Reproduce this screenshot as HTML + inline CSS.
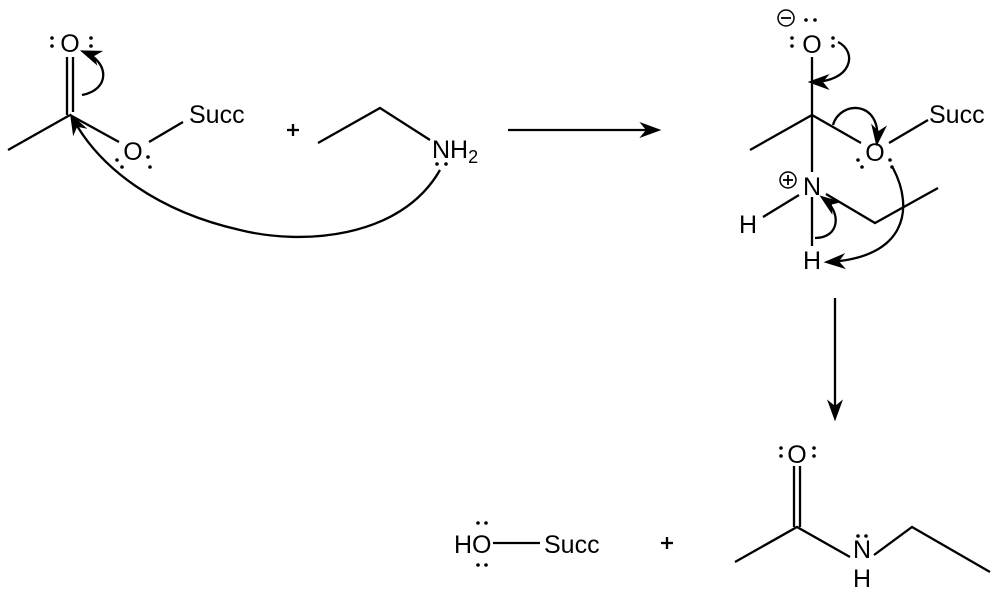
<!DOCTYPE html>
<html><head><style>
html,body{margin:0;padding:0;background:#fff;width:1000px;height:600px;overflow:hidden}
svg text{font-family:"Liberation Sans",Arial,sans-serif;font-size:25px;fill:#000}
</style></head><body>
<svg width="1000" height="600" viewBox="0 0 1000 600" xmlns="http://www.w3.org/2000/svg">
<defs>
<marker id="ah2" viewBox="0 0 10 10" refX="8" refY="5" markerWidth="22" markerHeight="16" orient="auto" markerUnits="userSpaceOnUse" preserveAspectRatio="none"><path d="M0,0 L10,5 L0,10 L3,5 z" fill="#000"/></marker>
</defs>
<g stroke="#000" stroke-width="2.3" fill="none">
<line x1="8" y1="150" x2="70" y2="115"/>
<line x1="67" y1="57" x2="67" y2="115"/>
<line x1="73" y1="57" x2="73" y2="112"/>
<line x1="70" y1="115" x2="119" y2="142"/>
<line x1="149" y1="142" x2="183" y2="122"/>
<path d="M82,95 C110,90 110,62 84,52" marker-end="url(#ah2)"/>
<path d="M440,170 C400,240 300,245 240,230 C160,212 100,170 72,117" marker-end="url(#ah2)"/>
<polyline points="318,143 380,108 430,140"/>
<line x1="287" y1="130" x2="299" y2="130"/><line x1="293" y1="124" x2="293" y2="136"/>
<line x1="508" y1="130" x2="657" y2="130" marker-end="url(#ah2)"/>
<line x1="812" y1="57" x2="812" y2="172"/>
<line x1="812" y1="197" x2="812" y2="246"/>
<line x1="750" y1="150" x2="812" y2="115"/>
<line x1="812" y1="115" x2="861" y2="143"/>
<line x1="889" y1="143" x2="928" y2="120"/>
<line x1="763" y1="217" x2="799" y2="195"/>
<polyline points="826,194 875,223 938,188"/>
<path d="M838,42 C858,52 852,82 812,82" marker-end="url(#ah2)"/>
<path d="M833,125 C840,100 882,100 877,142" marker-end="url(#ah2)"/>
<path d="M893,168 C915,210 905,258 828,262" marker-end="url(#ah2)"/>
<path d="M815,238 C840,238 842,212 823,198" marker-end="url(#ah2)"/>
<circle cx="786" cy="18" r="8" stroke-width="1.5"/>
<line x1="781" y1="18" x2="791" y2="18" stroke-width="1.8"/>
<circle cx="788" cy="180" r="8" stroke-width="1.5"/>
<line x1="783" y1="180" x2="793" y2="180" stroke-width="1.8"/><line x1="788" y1="175" x2="788" y2="185" stroke-width="1.8"/>
<line x1="835" y1="298" x2="835" y2="417" marker-end="url(#ah2)"/>
<line x1="493" y1="543" x2="540" y2="543"/>
<line x1="661" y1="543" x2="673" y2="543"/><line x1="667" y1="537" x2="667" y2="549"/>
<polyline points="735,562 797,527 850,557"/>
<line x1="794" y1="466" x2="794" y2="527"/>
<line x1="800" y1="466" x2="800" y2="527"/>
<polyline points="874,555 912,527 990,572"/>
</g>
<g fill="#000">
<circle cx="52" cy="38" r="1.8"/><circle cx="52" cy="46" r="1.8"/>
<circle cx="91" cy="38" r="1.8"/><circle cx="91" cy="46" r="1.8"/>
<circle cx="117" cy="160" r="1.8"/><circle cx="122" cy="167" r="1.8"/>
<circle cx="148" cy="157" r="1.8"/><circle cx="150" cy="167" r="1.8"/>
<circle cx="437" cy="164" r="1.8"/><circle cx="446" cy="164" r="1.8"/>
<circle cx="806" cy="20" r="1.8"/><circle cx="815" cy="20" r="1.8"/>
<circle cx="792" cy="38" r="1.8"/><circle cx="792" cy="46" r="1.8"/>
<circle cx="833" cy="38" r="1.8"/><circle cx="833" cy="46" r="1.8"/>
<circle cx="858" cy="160" r="1.8"/><circle cx="862" cy="167" r="1.8"/>
<circle cx="890" cy="160" r="1.8"/><circle cx="892" cy="167" r="1.8"/>
<circle cx="478" cy="523" r="1.8"/><circle cx="486" cy="523" r="1.8"/>
<circle cx="478" cy="565" r="1.8"/><circle cx="486" cy="565" r="1.8"/>
<circle cx="781" cy="448" r="1.8"/><circle cx="781" cy="456" r="1.8"/>
<circle cx="814" cy="448" r="1.8"/><circle cx="814" cy="456" r="1.8"/>
<circle cx="858" cy="536" r="1.8"/><circle cx="866" cy="536" r="1.8"/>
</g>
<text x="70" y="52" text-anchor="middle">O</text>
<text x="133" y="160" text-anchor="middle">O</text>
<text x="189" y="123">Succ</text>
<text x="432" y="158">NH<tspan font-size="18" dy="5">2</tspan></text>
<text x="812" y="53" text-anchor="middle">O</text>
<text x="875" y="161" text-anchor="middle">O</text>
<text x="929" y="123">Succ</text>
<text x="812" y="195" text-anchor="middle">N</text>
<text x="748" y="233" text-anchor="middle">H</text>
<text x="812" y="269" text-anchor="middle">H</text>
<text x="454" y="553">HO</text>
<text x="544" y="553">Succ</text>
<text x="797" y="463" text-anchor="middle">O</text>
<text x="862" y="558" text-anchor="middle">N</text>
<text x="862" y="587" text-anchor="middle">H</text>
</svg>
</body></html>
